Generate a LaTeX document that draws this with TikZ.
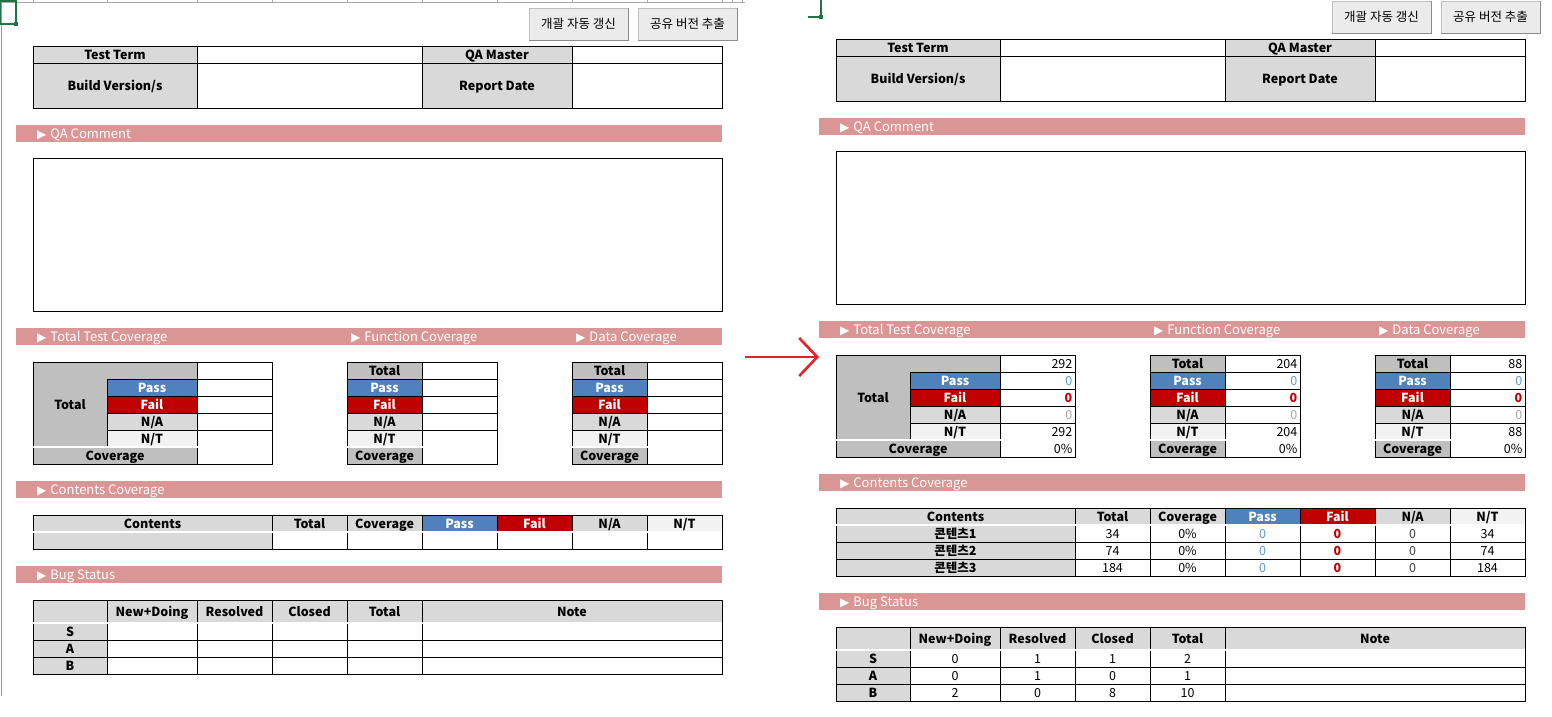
\documentclass[tikz,border=0pt]{standalone}
\usepackage{fontspec}
\setmainfont{Noto Sans CJK KR}
\newfontfamily\symfont{DejaVu Sans}
\usetikzlibrary{arrows.meta}
\definecolor{barpink}{HTML}{DA9694}
\definecolor{hdgrey}{HTML}{D9D9D9}
\definecolor{totgrey}{HTML}{BFBFBF}
\definecolor{ntgrey}{HTML}{F2F2F2}
\definecolor{passblue}{HTML}{4F81BD}
\definecolor{passval}{HTML}{5B9BD5}
\definecolor{failred}{HTML}{C00000}
\definecolor{nagrey}{HTML}{A6A6A6}
\definecolor{naval}{HTML}{404040}
\definecolor{xlgreen}{HTML}{217346}
\definecolor{btnface}{HTML}{EBEBEB}
\definecolor{arrowred}{HTML}{E8202A}
\newcommand\sz{\fontsize{12.5}{14}\selectfont}
\newcommand\tri{{\symfont\fontsize{12}{12}\selectfont ▶}\hspace{4pt}}
\tikzset{cel/.style = {draw, line width=0.8pt, inner sep=0, outer sep=0, fill=white, font=\sz\bfseries,
                       text height=11.5pt, text depth=2pt},
         grey/.style = {fill=hdgrey},
         tot/.style = {fill=totgrey},
         nt/.style = {fill=ntgrey},
         pass/.style = {fill=passblue, text=white},
         fail/.style = {fill=failred, text=white},
         plain/.style = {font=\sz},
         num/.style = {anchor=east, inner sep=0, font=\sz, text height=11.5pt, text depth=2pt},
         bar/.style = {fill=barpink, inner sep=0},
         bartext/.style = {text=white, anchor=west, inner sep=0, font=\fontsize{13}{14}\selectfont,
                           text height=11.5pt, text depth=2pt},
         dbl/.style = {double, double distance=1.2pt, line width=0.6pt},
         btn/.style = {draw=black!25, fill=btnface, minimum width=99pt, minimum height=32pt, inner sep=0, font=\sz},
         btnedge/.style = {draw=black!45, line width=1.2pt}}
% one table cell: name, x1, y1, x2, y2, style, text
\newcommand\cel[7]{%
  \node[cel,#6,minimum width={((#4)-(#2))*1pt},minimum height={((#5)-(#3))*1pt}]
    (#1) at ({((#2)+(#4))/2},{((#3)+(#5))/2}) {#7};}
\newcommand\val[3][]{\node[num,#1] (#2-v) at ([xshift=-2.5pt]#2.east) {#3};}
\newcommand\secbar[3]{%
  \node[bar,minimum width=706pt,minimum height=17pt,anchor=north west] (#1) at (16,{#2}) {};
  \node[bartext] (#1-t) at (37,{(#2)+8.5}) {\tri #3};}
\newcommand\covtab[2]{%
  \cel{#1a}{#2}{362}{#2+75}{379}{tot}{Total}
  \cel{#1p}{#2}{379}{#2+75}{396}{pass}{Pass}
  \cel{#1f}{#2}{396}{#2+75}{413}{fail}{Fail}
  \cel{#1n}{#2}{413}{#2+75}{430}{grey}{N/A}
  \cel{#1t}{#2}{430}{#2+75}{447}{nt}{N/T}
  \cel{#1c}{#2}{447}{#2+75}{464}{tot}{Coverage}
  \foreach \r in {0,...,5} {\cel{#1v\r}{#2+75}{362+17*\r}{#2+150}{379+17*\r}{}{}}
  \draw[dbl] (#1c.north west) -- (#1v5.north east);}
\newcommand\covvals[3]{%
  \val{#1v0}{#2}
  \val[text=passval]{#1v1}{0}
  \val[text=failred,font=\sz\bfseries]{#1v2}{0}
  \val[text=nagrey]{#1v3}{0}
  \val{#1v4}{#3}
  \val{#1v5}{0\%}}
% contents row: prefix, row, label, total, coverage, pass, fail, n/a, n/t
\newcommand\crow[9]{%
  \cel{#1r#2a}{33}{532+17*#2}{272}{549+17*#2}{grey}{#3}
  \cel{#1r#2b}{272}{532+17*#2}{347}{549+17*#2}{plain}{#4}
  \cel{#1r#2c}{347}{532+17*#2}{422}{549+17*#2}{plain}{#5}
  \cel{#1r#2d}{422}{532+17*#2}{497}{549+17*#2}{plain,text=passval}{#6}
  \cel{#1r#2e}{497}{532+17*#2}{572}{549+17*#2}{text=failred}{#7}
  \cel{#1r#2f}{572}{532+17*#2}{647}{549+17*#2}{plain,text=naval}{#8}
  \cel{#1r#2g}{647}{532+17*#2}{722}{549+17*#2}{plain}{#9}}
% bug row: prefix, grade, top, new+doing, resolved, closed, total
\newcommand\brow[7]{%
  \cel{#1#2}{33}{#3}{107}{#3+17}{grey}{#2}
  \cel{#1#2a}{107}{#3}{197}{#3+17}{plain}{#4}
  \cel{#1#2b}{197}{#3}{272}{#3+17}{plain}{#5}
  \cel{#1#2c}{272}{#3}{347}{#3+17}{plain}{#6}
  \cel{#1#2d}{347}{#3}{422}{#3+17}{plain}{#7}
  \cel{#1#2n}{422}{#3}{722}{#3+17}{}{}}
% the sheet without its figures: prefix, shift of the bug block
\newcommand\panel[2]{%
  \node[btn] (#1upd) at (578.5,24) {개괄 자동 갱신};
  \node[btn] (#1exp) at (687.5,24) {공유 버전 추출};
  \draw[btnedge] (#1upd.north east) -- (#1upd.south east) -- (#1upd.south west);
  \draw[btnedge] (#1exp.north east) -- (#1exp.south east) -- (#1exp.south west);
  \cel{#1tt}{33}{46}{197}{63}{grey}{Test Term}
  \cel{#1ttv}{197}{46}{422}{63}{}{}
  \cel{#1qm}{422}{46}{572}{63}{grey}{QA Master}
  \cel{#1qmv}{572}{46}{722}{63}{}{}
  \cel{#1bv}{33}{63}{197}{108}{grey}{Build Version/s}
  \cel{#1bvv}{197}{63}{422}{108}{}{}
  \cel{#1rd}{422}{63}{572}{108}{grey}{Report Date}
  \cel{#1rdv}{572}{63}{722}{108}{}{}
  \secbar{#1qa}{125}{QA Comment}
  \cel{#1cm}{33}{158}{722}{311}{}{}
  \secbar{#1cov}{328}{Total Test Coverage}
  \node[bartext] (#1cov-f) at (351,336.5) {\tri Function Coverage};
  \node[bartext] (#1cov-d) at (576,336.5) {\tri Data Coverage};
  \cel{#1tot}{33}{362}{197}{447}{tot}{}
  \node[font=\sz\bfseries] (#1tot-t) at (70,404.5) {Total};
  \cel{#1tp}{107}{379}{197}{396}{pass}{Pass}
  \cel{#1tf}{107}{396}{197}{413}{fail}{Fail}
  \cel{#1ta}{107}{413}{197}{430}{grey}{N/A}
  \cel{#1tn}{107}{430}{197}{447}{nt}{N/T}
  \cel{#1tc}{33}{447}{197}{464}{tot}{Coverage}
  \foreach \r in {0,...,5} {\cel{#1tv\r}{197}{362+17*\r}{272}{379+17*\r}{}{}}
  \draw[dbl] (#1tc.north west) -- (#1tv5.north east);
  \covtab{#1fc}{347}
  \covtab{#1dc}{572}
  \secbar{#1con}{481}{Contents Coverage}
  \cel{#1h0}{33}{515}{272}{532}{grey}{Contents}
  \cel{#1h1}{272}{515}{347}{532}{grey}{Total}
  \cel{#1h2}{347}{515}{422}{532}{grey}{Coverage}
  \cel{#1h3}{422}{515}{497}{532}{pass}{Pass}
  \cel{#1h4}{497}{515}{572}{532}{fail}{Fail}
  \cel{#1h5}{572}{515}{647}{532}{grey}{N/A}
  \cel{#1h6}{647}{515}{722}{532}{nt}{N/T}
  \secbar{#1bug}{566+#2}{Bug Status}
  \cel{#1b0}{33}{600+#2}{107}{623+#2}{grey}{}
  \cel{#1b1}{107}{600+#2}{197}{623+#2}{grey}{New+Doing}
  \cel{#1b2}{197}{600+#2}{272}{623+#2}{grey}{Resolved}
  \cel{#1b3}{272}{600+#2}{347}{623+#2}{grey}{Closed}
  \cel{#1b4}{347}{600+#2}{422}{623+#2}{grey}{Total}
  \cel{#1b5}{422}{600+#2}{722}{623+#2}{grey}{Note}}

\begin{document}
\begin{tikzpicture}[x=1pt, y=-1pt]
  \fill[white] (0,0) rectangle (1552,716);
  \useasboundingbox (0,0) rectangle (1552,716);
  % empty sheet
  \draw[black!40] (1,0) -- (1,696);
  \draw[black!35] (0,2) -- (745,2);
  \foreach \x in {33,107,197,272,347,422,497,572,647,722,732,742}
    \draw[black!35] (\x,0) -- (\x,2);
  \begin{scope}
    \panel{l}{0}
    \crow{l}{0}{}{}{}{}{}{}{}
    \draw[dbl] (lh0.south west) -- (lh6.south east);
    \brow{l}{S}{623}{}{}{}{}
    \brow{l}{A}{640}{}{}{}{}
    \brow{l}{B}{657}{}{}{}{}
    \draw[dbl] (lb0.south west) -- (lb5.south east);
  \end{scope}
  \draw[xlgreen, line width=1.3pt] (0.7,1) rectangle (16,24);
  \node[fill=xlgreen, minimum size=4pt, inner sep=0] (lsel) at (16,24) {};
  % filled sheet
  \begin{scope}[shift={(803,-7)}]
    \panel{r}{34}
    \crow{r}{0}{콘텐츠1}{34}{0\%}{0}{0}{0}{34}
    \crow{r}{1}{콘텐츠2}{74}{0\%}{0}{0}{0}{74}
    \crow{r}{2}{콘텐츠3}{184}{0\%}{0}{0}{0}{184}
    \draw[dbl] (rh0.south west) -- (rh6.south east);
    \brow{r}{S}{657}{0}{1}{1}{2}
    \brow{r}{A}{674}{0}{1}{0}{1}
    \brow{r}{B}{691}{2}{0}{8}{10}
    \draw[dbl] (rb0.south west) -- (rb5.south east);
    \covvals{rt}{292}{292}
    \covvals{rfc}{204}{204}
    \covvals{rdc}{88}{88}
  \end{scope}
  \draw[xlgreen, line width=1.3pt] (821,0) -- (821,17) -- (808,17);
  \node[fill=xlgreen, minimum size=4pt, inner sep=0] (rsel) at (821,17) {};
  % arrow
  \coordinate (arrS) at (745,357);
  \coordinate (arrE) at (819,357);
  \draw[arrowred, line width=2.6pt, -{Straight Barb[length=18pt, width=38pt]}] (arrS) -- (arrE);
\end{tikzpicture}
\end{document}
